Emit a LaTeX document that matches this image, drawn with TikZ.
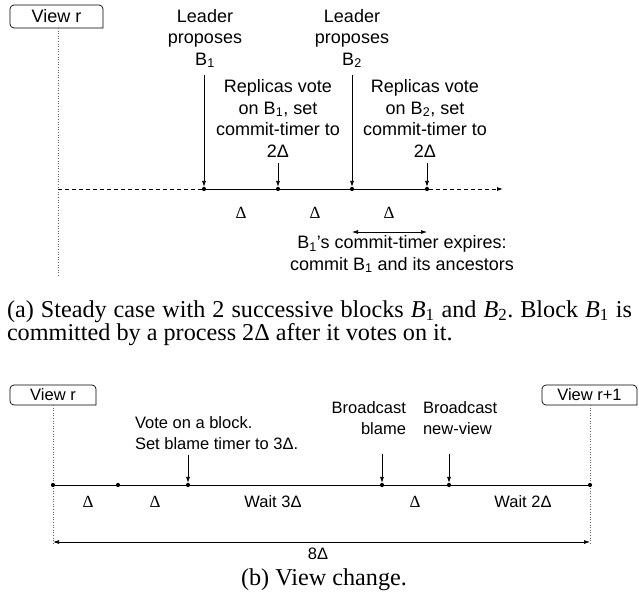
\documentclass[tikz,border=0pt]{standalone}
\usepackage{fontspec}
\setmainfont{Liberation Serif}
\setsansfont{Liberation Sans}
\usetikzlibrary{arrows.meta}
\begin{document}
\begin{tikzpicture}[x=1pt,y=-1pt,
  every node/.style={inner sep=0pt, outer sep=0pt},
  la/.style={font=\sffamily\fontsize{18}{21.5}\selectfont, align=center, anchor=base},
  lb/.style={font=\sffamily\fontsize{16.5}{20.5}\selectfont, anchor=base},
  dsym/.style={font=\rmfamily\fontsize{17}{17}\selectfont, anchor=base},
  dot/.style={circle, fill=black, minimum size=4.2pt},
  tip/.style={-{Latex[length=6pt,width=4pt]}},
  tick/.style={tip, line width=0.7pt},
  axis/.style={line width=0.8pt},
  axdash/.style={line width=0.8pt, dash pattern=on 4pt off 3pt},
  vline/.style={dotted, line width=0.6pt, black!60},
  tabline/.style={line width=0.7pt},
  taba/.style={font=\sffamily\fontsize{18}{18}\selectfont},
  tabb/.style={font=\sffamily\fontsize{16.5}{16.5}\selectfont},
  captext/.style={font=\rmfamily\fontsize{24.2}{23}\selectfont}
]
\useasboundingbox (0,0) rectangle (639,602);

% ---------- (a) ----------
\node[taba, minimum width=93pt, minimum height=23pt] (va) at (56.5,16.5) {View r};
\draw[tabline] (va.south east) [rounded corners=4pt] -- (va.north east) -- (va.north west) -- (va.south west) [sharp corners] -- cycle;
\coordinate (vaend) at (58,277);
\draw[vline] (va.south -| vaend) -- (vaend);

\coordinate (a0) at (58,189);
\node[dot] (a1) at (204,189) {};
\node[dot] (a2) at (278,189) {};
\node[dot] (a3) at (352,189) {};
\node[dot] (a4) at (427,189) {};
\coordinate (a5) at (503,189);
\draw[axdash] (a0) -- (a1);
\draw[axis] (a1) -- (a2) -- (a3) -- (a4);
\draw[axdash, tip] (a4) -- (a5);

\node[la] (lp1) at (205,65) {Leader\\proposes\\B\textsubscript{1}};
\node[la] (rv1) at (278,157) {Replicas vote\\on B\textsubscript{1}, set\\commit-timer to\\2Δ};
\node[la] (lp2) at (352,65) {Leader\\proposes\\B\textsubscript{2}};
\node[la] (rv2) at (425,157) {Replicas vote\\on B\textsubscript{2}, set\\commit-timer to\\2Δ};
\draw[tick] ([yshift=-7pt]lp1.south -| a1) -- (a1);
\draw[tick] ([yshift=-6pt]rv1.south -| a2) -- (a2);
\draw[tick] ([yshift=-7pt]lp2.south -| a3) -- (a3);
\draw[tick] ([yshift=-6pt]rv2.south -| a4) -- (a4);

\node[dsym] (d1) at (241,218) {Δ};
\node[dsym] (d2) at (315,218) {Δ};
\node[dsym] (d3) at (389,218) {Δ};

\coordinate (c1) at (352,232);
\coordinate (c2) at (427,232);
\draw[line width=0.7pt, {Latex[length=6pt,width=4pt]}-{Latex[length=6pt,width=4pt]}] (c1) -- (c2);

\node[la] (exp) at (402,270) {B\textsubscript{1}’s commit-timer expires:\\commit B\textsubscript{1} and its ancestors};

\node[captext, anchor=base west, text width=625pt, align=justify] (capa) at (7,317)
  {\frenchspacing(a) Steady case with 2 successive blocks \textit{B}\textsubscript{1} and \textit{B}\textsubscript{2}. Block \textit{B}\textsubscript{1} is\linebreak committed by a process 2Δ after it votes on it.};

% ---------- (b) ----------
\node[tabb, minimum width=86pt, minimum height=20pt] (vb) at (53,395) {View r};
\draw[tabline] (vb.south east) [rounded corners=4pt] -- (vb.north east) -- (vb.north west) -- (vb.south west) [sharp corners] -- cycle;
\node[tabb, minimum width=95pt, minimum height=20pt] (vb2) at (589.5,395) {View r+1};
\draw[tabline] (vb2.south east) [rounded corners=4pt] -- (vb2.north east) -- (vb2.north west) -- (vb2.south west) [sharp corners] -- cycle;
\coordinate (vbend) at (53,543);
\coordinate (vb2end) at (590,543);
\draw[vline] (vb.south -| vbend) -- (vbend);
\draw[vline] (vb2.south -| vb2end) -- (vb2end);

\node[dot] (b1) at (53,485) {};
\node[dot] (b2) at (118,485) {};
\node[dot] (b3) at (188,485) {};
\node[dot] (b4) at (382,485) {};
\node[dot] (b5) at (449,485) {};
\node[dot] (b6) at (590,485) {};
\draw[axis] (b1) -- (b2) -- (b3) -- (b4) -- (b5) -- (b6);

\node[dsym] (e1) at (88,507) {Δ};
\node[dsym] (e2) at (155,507) {Δ};
\node[lb] (w3) at (273,507) {Wait 3Δ};
\node[dsym] (e3) at (415,507) {Δ};
\node[lb] (w2) at (523,507) {Wait 2Δ};

\node[lb, align=left, anchor=base west] (vote) at (135,449) {Vote on a block.\\Set blame timer to 3Δ.};
\node[lb, align=right, anchor=base east] (blame) at (406,434) {Broadcast\\blame};
\node[lb, align=left, anchor=base west] (nv) at (423,434) {Broadcast\\new-view};
\draw[tick] ([yshift=-6pt]vote.south -| b3) -- (b3);
\draw[tick] ([yshift=-20pt]blame.south -| b4) -- (b4);
\draw[tick] ([yshift=-20pt]nv.south -| b5) -- (b5);

\coordinate (f1) at (53,542);
\coordinate (f2) at (590,542);
\draw[line width=0.7pt, {Latex[length=6pt,width=4pt]}-{Latex[length=6pt,width=4pt]}] (f1) -- (f2);
\node[lb] (eight) at (318,559) {8Δ};

\node[captext, anchor=base] (capb) at (324,585) {(b) View change.};
\end{tikzpicture}
\end{document}
